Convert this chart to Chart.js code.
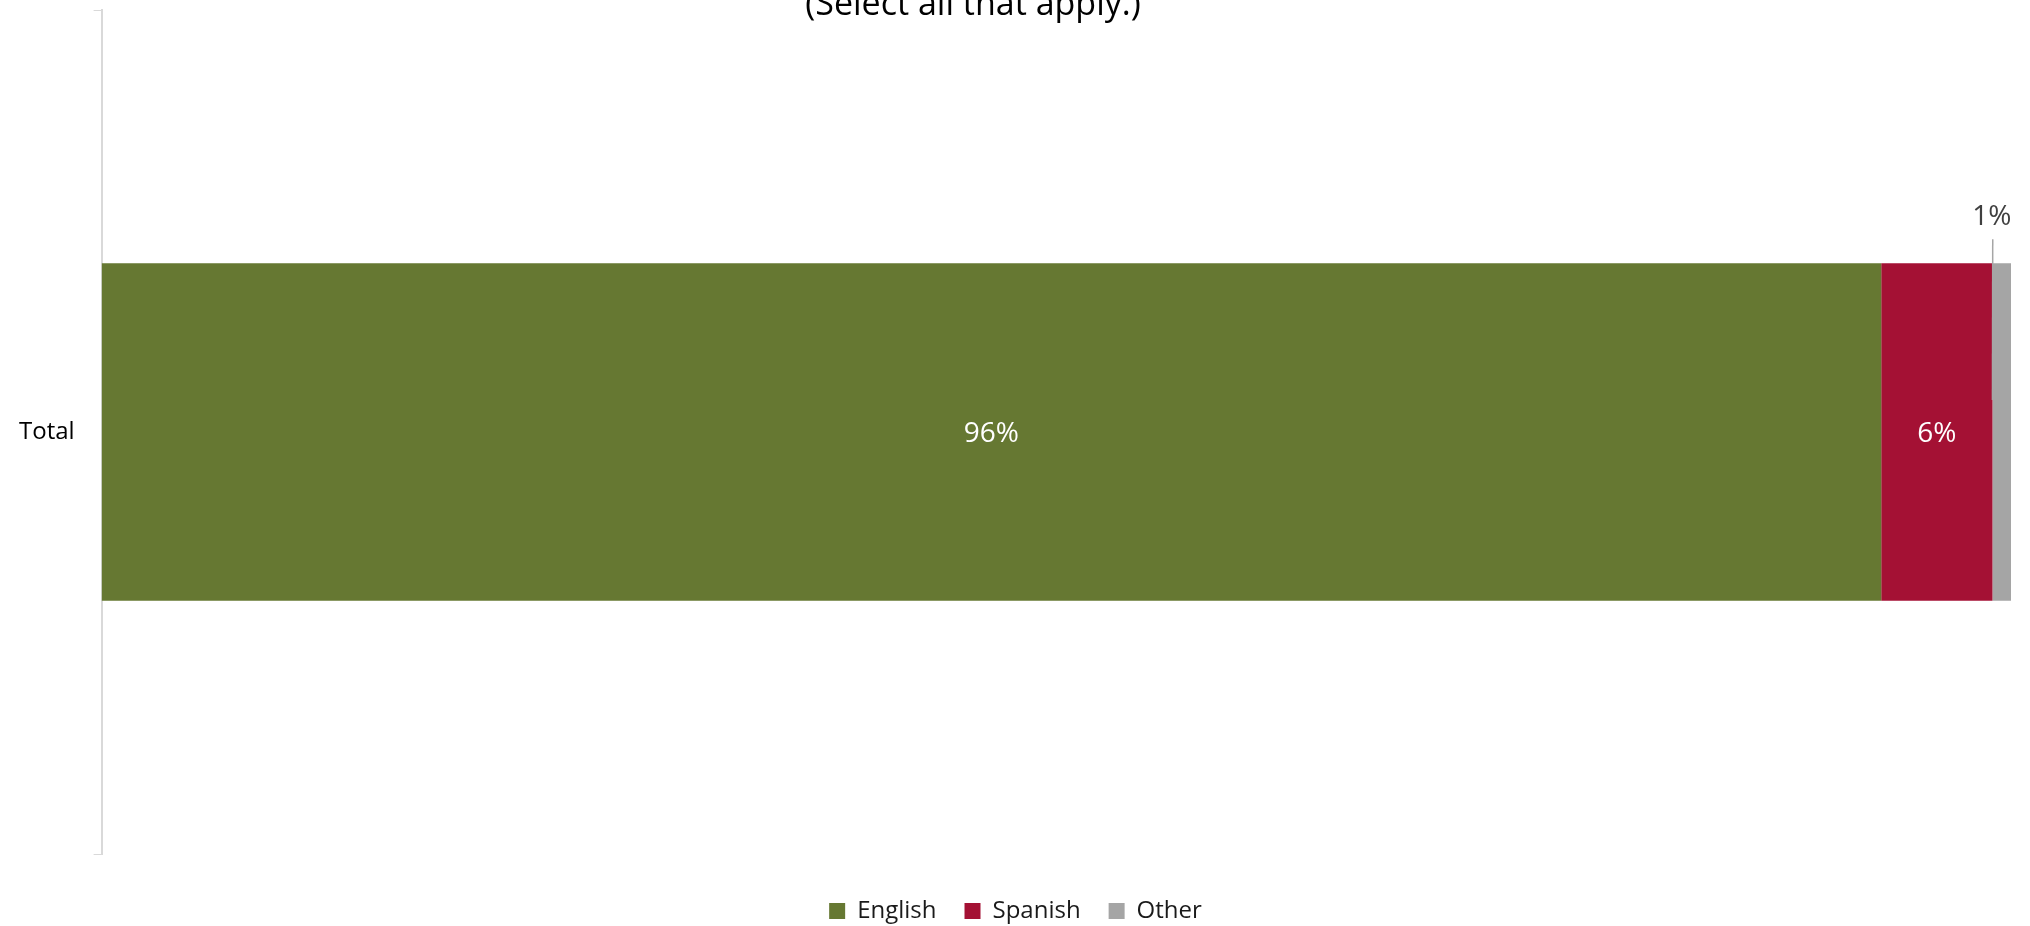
<!DOCTYPE html>
<html>
<head>
<meta charset="utf-8">
<script src="https://cdn.jsdelivr.net/npm/chart.js@4/dist/chart.umd.min.js"></script>
<style>
  html, body { margin: 0; padding: 0; background: #fff; }
  #wrap { width: 2030px; height: 926px; }
</style>
</head>
<body>
<div id="wrap"><canvas id="langChart" width="2030" height="926"></canvas></div>
<script>
// language spoken at home, stacked percentages (multi-select so total > 100)
var categories = ['Total'];
var seriesNames = ['English', 'Spanish', 'Other'];
var englishValues = [96];
var spanishValues = [6];
var otherValues = [1];
var axisMax = 103;

var FONT = "'Open Sans', sans-serif";
var colors = ['#667832', '#A41134', '#A5A5A5'];

// value labels: white inside the wide segments, callout above the thin one
var barLabels = {
  id: 'barLabels',
  afterDatasetsDraw: function(chart) {
    var ctx = chart.ctx;
    ctx.save();
    ctx.font = '28px ' + FONT;
    ctx.textAlign = 'center';
    ctx.textBaseline = 'middle';
    chart.data.datasets.forEach(function(ds, i) {
      var meta = chart.getDatasetMeta(i);
      meta.data.forEach(function(bar, j) {
        var v = ds.data[j];
        var cx = (bar.x + bar.base) / 2;
        var txt = v + '%';
        if (i < 2) {
          ctx.fillStyle = '#ffffff';
          ctx.fillText(txt, cx, bar.y + 2);
        } else {
          var top = bar.y - bar.height / 2;
          ctx.fillStyle = '#404040';
          ctx.fillText(txt, cx - 10, top - 46);
          ctx.strokeStyle = '#a6a6a6';
          ctx.lineWidth = 1.5;
          ctx.beginPath();
          ctx.moveTo(cx - 9, top - 24);
          ctx.lineTo(bar.base, bar.y - 32);
          ctx.stroke();
        }
      });
    });
    ctx.restore();
  }
};

// question subtitle, partly above the canvas edge
var subTitle = {
  id: 'subTitle',
  afterDraw: function(chart) {
    var ctx = chart.ctx;
    ctx.save();
    ctx.font = '34px ' + FONT;
    ctx.fillStyle = '#000';
    ctx.textAlign = 'center';
    ctx.textBaseline = 'alphabetic';
    ctx.fillText('(Select all that apply.)', 973, 15);
    ctx.restore();
  }
};

// move the legend row down/right a bit without touching the plot area
var legendNudge = {
  id: 'legendNudge',
  afterLayout: function(chart) {
    var lg = chart.legend;
    if (lg) {
      lg.top += 17;
      lg.bottom += 17;
      lg.left += 10;
      lg.right += 10;
    }
  }
};

var datasets = [englishValues, spanishValues, otherValues].map(function(vals, i) {
  return {
    label: seriesNames[i],
    data: vals,
    backgroundColor: colors[i],
    borderWidth: 0,
    barPercentage: 0.8,
    categoryPercentage: 0.5
  };
});

new Chart(document.getElementById('langChart'), {
  type: 'bar',
  data: { labels: categories, datasets: datasets },
  options: {
    indexAxis: 'y',
    responsive: false,
    animation: false,
    layout: { padding: { top: 10, right: 19, bottom: 10, left: 0 } },
    plugins: {
      tooltip: { enabled: false },
      legend: {
        position: 'bottom',
        labels: {
          boxWidth: 16,
          boxHeight: 16,
          padding: 28,
          color: '#1a1a1a',
          font: { size: 24, family: FONT }
        }
      }
    },
    scales: {
      x: { stacked: true, min: 0, max: axisMax, display: false },
      y: {
        stacked: true,
        offset: true,
        afterFit: function(scale) {
          scale.paddingTop = 0;
          scale.paddingBottom = 0;
        },
        grid: {
          offset: true,
          drawOnChartArea: false,
          drawTicks: true,
          tickLength: 8,
          color: '#d9d9d9',
          tickColor: '#d9d9d9'
        },
        border: { color: '#d9d9d9', width: 2 },
        ticks: { color: '#000', padding: 19, font: { size: 24, family: FONT } }
      }
    }
  },
  plugins: [barLabels, subTitle, legendNudge]
});
</script>
</body>
</html>
